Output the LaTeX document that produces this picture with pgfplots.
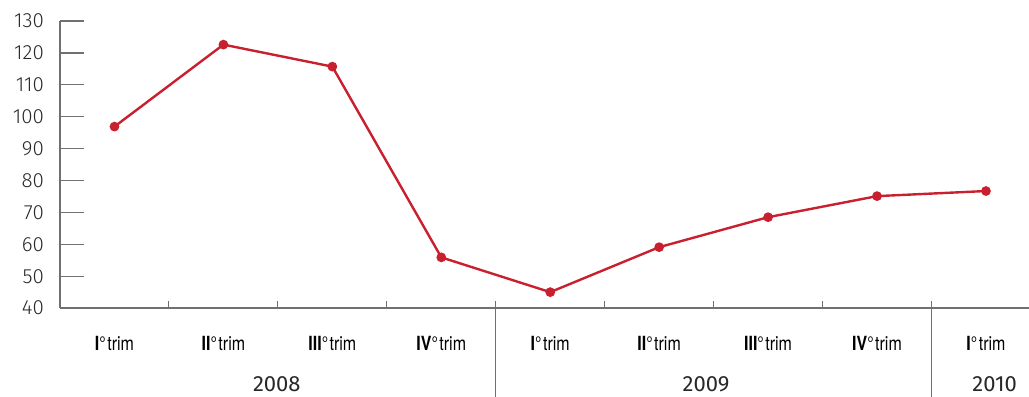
\documentclass[border=0pt]{standalone}
\usepackage{pgfplots}
\pgfplotsset{compat=1.18}
\usepackage{fontspec}
\setmainfont{Fira Sans}[UprightFont={* Light}]
\newfontfamily\yearfont{Fira Sans}
\newfontfamily\catfont{TeX Gyre Heros}[FakeStretch=0.82]
\definecolor{linered}{RGB}{200,32,47}
\definecolor{axisgray}{RGB}{112,112,112}
\definecolor{txt}{RGB}{40,40,40}
\newcommand{\qlab}[1]{{\catfont\textbf{#1}°\hspace{1.5pt}trim}}

\pgfplotstableread{
q    v
0    96.9
1    122.6
2    115.7
3    55.9
4    45.0
5    59.1
6    68.5
7    75.1
8    76.7
}\quarterly

\begin{document}
\begin{tikzpicture}
\begin{axis}[
  at={(0pt,0pt)}, anchor=south west,
  scale only axis, width=968.7pt, height=287pt,
  xmin=-0.5, xmax=8.395, ymin=40, ymax=130,
  axis x line*=bottom, axis y line*=left,
  axis line style={axisgray, line width=1.2pt},
  ytick={40,50,...,130},
  yticklabels={40,50,60,70,80,90,100,110,120,130},
  major tick length=24pt, tick align=inside,
  ytick style={axisgray, line width=1.2pt},
  yticklabel style={font=\fontsize{20.5}{24}\selectfont, text=txt, anchor=east, inner sep=0pt, xshift=-16pt},
  xtick={0,...,8},
  xtick style={draw=none},
  xticklabels={\qlab{I},\qlab{II},\qlab{III},\qlab{IV}\hspace{2pt},\qlab{I},\qlab{II},\qlab{III},\qlab{IV}\hspace{2pt},\qlab{I}},
  xticklabel style={font=\fontsize{19.5}{23}\selectfont, text=black, anchor=base, yshift=-42pt},
  clip=false,
]
\addplot[linered, line width=2.4pt, mark=*, mark size=3.6pt, mark options={fill=linered, draw=linered}] table[x=q, y=v] {\quarterly};

% quarter separators on the time axis
\pgfplotsinvokeforeach{0.5,1.5,2.5,4.5,5.5,6.5}{
  \draw[axisgray, line width=1pt] (axis cs:#1,40) -- ([yshift=7pt]axis cs:#1,40);
}
% year separators
\pgfplotsinvokeforeach{3.5,7.5}{
  \draw[axisgray, line width=1.4pt] ([yshift=7pt]axis cs:#1,40) -- ([yshift=-95pt]axis cs:#1,40);
}
\tikzset{yearlab/.style={anchor=base, inner sep=0pt, text=txt, font=\yearfont\fontsize{22}{26}\selectfont, yshift=-83pt}}
\node[yearlab] at (axis cs:1.49,40) {2008};
\node[yearlab] at (axis cs:5.43,40) {2009};
\node[yearlab] at (axis cs:8.08,40) {2010};
\end{axis}
\pgfresetboundingbox
\path[use as bounding box] (-60pt,-88pt) rectangle (968.7pt,308pt);
\end{tikzpicture}
\end{document}
